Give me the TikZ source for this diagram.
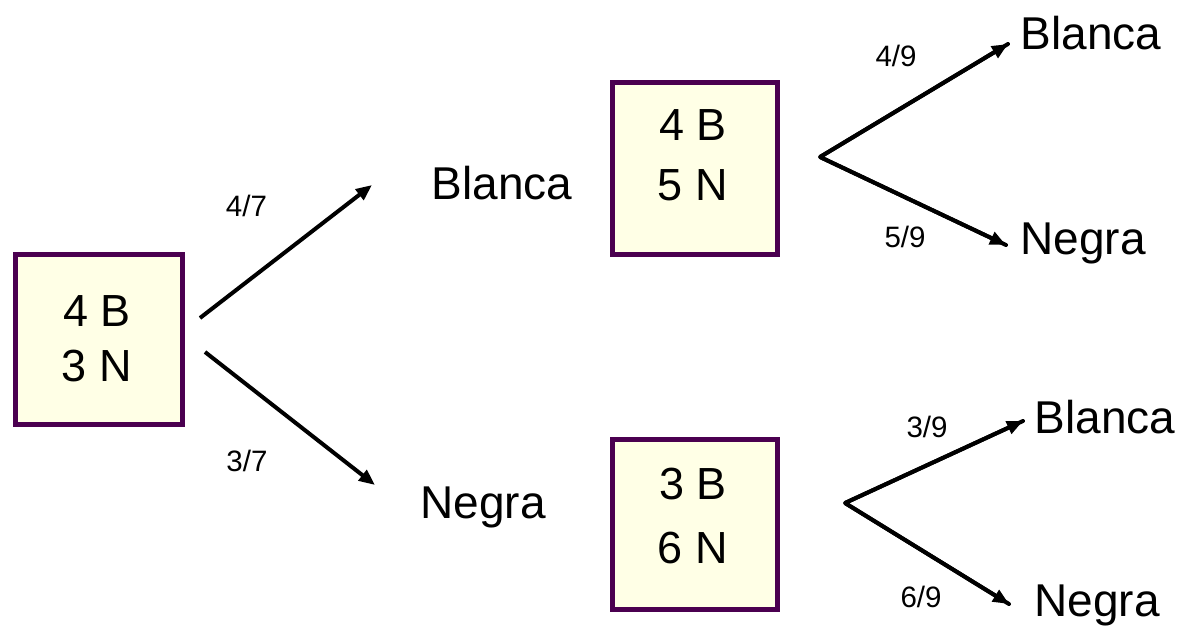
\documentclass[tikz,border=0pt]{standalone}
\usepackage{fontspec}
\setmainfont{Liberation Sans}
\usetikzlibrary{arrows.meta}
\definecolor{boxedge}{RGB}{75,0,80}
\definecolor{boxfill}{RGB}{255,255,230}
\tikzset{
  urn/.style={draw=boxedge, fill=boxfill, line width=5pt, inner sep=0pt},
  big/.style={font=\fontsize{46}{55}\selectfont, inner sep=0pt, anchor=center},
  urntext/.style={font=\fontsize{45}{55}\selectfont, inner sep=0pt, anchor=center},
  prob/.style={font=\fontsize{29.5}{32}\selectfont, inner sep=0pt, anchor=center},
  branch/.style={line width=4pt, -{Triangle[length=16pt,width=13pt]}},
  fork/.style={line width=4pt, line join=round, line cap=round}
}
\begin{document}
\begin{tikzpicture}[x=1pt,y=-1pt]
\useasboundingbox (0,0) rectangle (1181,629);
% boxes
\node[urn, minimum width=167pt, minimum height=170pt] (A) at (99,339.5) {};
\node[urn, minimum width=165pt, minimum height=172pt] (Bx) at (695,168.5) {};
\node[urn, minimum width=165pt, minimum height=170pt] (Cx) at (695,524.5) {};
\node[urntext] (a1) at (97,311) {4 B};
\node[urntext] (a2) at (97,366) {3 N};
\node[urntext] (b1) at (693,125) {4 B};
\node[urntext] (b2) at (693,185) {5 N};
\node[urntext] (c1) at (693,484) {3 B};
\node[urntext] (c2) at (693,548) {6 N};
% first stage
\coordinate (s1) at (200,318);
\coordinate (s2) at (205,352);
\coordinate (e1) at (372,185);
\coordinate (e2) at (375,485);
\draw[branch] (s1) -- (e1);
\draw[branch] (s2) -- (e2);
\node[prob] (p47) at (246.5,206) {4/7};
\node[prob] (p37) at (247,461) {3/7};
\node[big] (mB) at (502,183) {Blanca};
\node[big] (mN) at (483,507) {Negra};
% top fork
\coordinate (v1) at (820,157);
\coordinate (t1) at (1008,44);
\coordinate (t2) at (1006,245);
\draw[fork] (t1) -- (v1) -- (t2);
\draw[branch] (v1) -- (t1);
\draw[branch] (v1) -- (t2);
\node[prob] (p49) at (896,56) {4/9};
\node[prob] (p59) at (905,237) {5/9};
\node[big] (rB1) at (1091,33) {Blanca};
\node[big] (rN1) at (1083,243) {Negra};
% bottom fork
\coordinate (v2) at (845,503);
\coordinate (u1) at (1023,421);
\coordinate (u2) at (1009,604);
\draw[fork] (u1) -- (v2) -- (u2);
\draw[branch] (v2) -- (u1);
\draw[branch] (v2) -- (u2);
\node[prob] (p39) at (927,427) {3/9};
\node[prob] (p69) at (921,597) {6/9};
\node[big] (rB2) at (1105,417) {Blanca};
\node[big] (rN2) at (1097,605) {Negra};
\end{tikzpicture}
\end{document}
